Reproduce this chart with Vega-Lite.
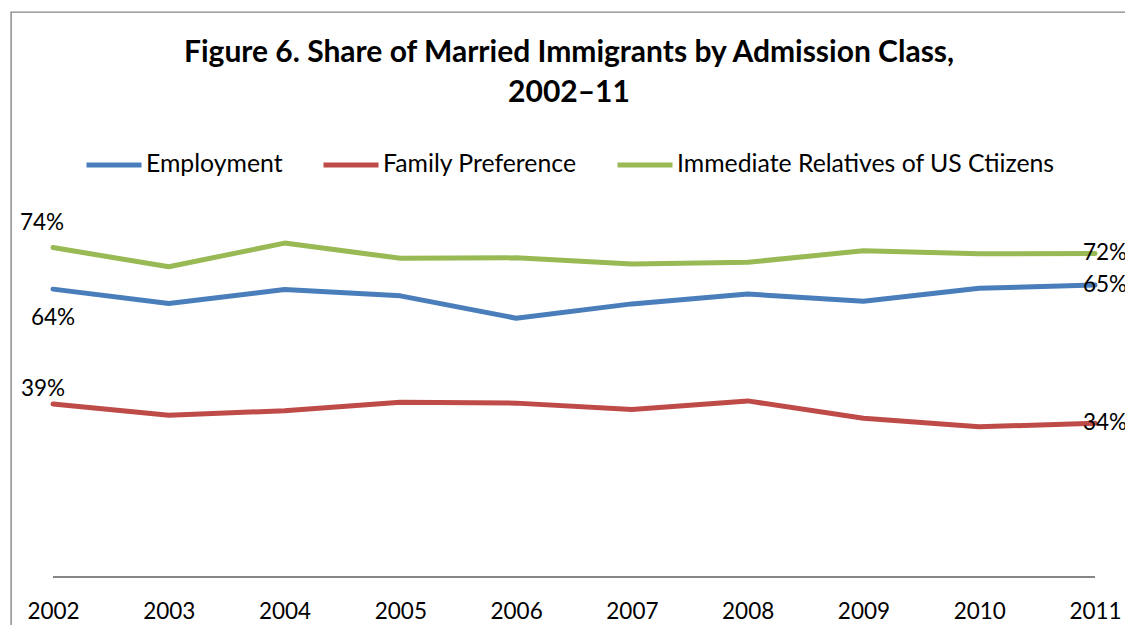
{
  "$schema": "https://vega.github.io/schema/vega-lite/v6.json",
  "width": 1134,
  "height": 633,
  "autosize": "none",
  "padding": {"left": 11, "top": 12, "right": -20, "bottom": -20},
  "background": "white",
  "config": {
    "view": {"stroke": "#868686", "strokeWidth": 1.4},
    "font": "Lato",
    "axis": {"labelFont": "Lato", "labelColor": "black"}
  },
  "title": {
    "text": ["Figure 6. Share of Married Immigrants by Admission Class,", "2002–11"],
    "font": "Lato",
    "fontSize": 30,
    "fontWeight": "bold",
    "color": "black",
    "anchor": "middle",
    "dx": -9,
    "lineHeight": 40,
    "offset": -96
  },
  "data": {
    "values": [
      {"year": 2002, "series": "Employment", "value": 0.644},
      {"year": 2003, "series": "Employment", "value": 0.612},
      {"year": 2004, "series": "Employment", "value": 0.643},
      {"year": 2005, "series": "Employment", "value": 0.629},
      {"year": 2006, "series": "Employment", "value": 0.579},
      {"year": 2007, "series": "Employment", "value": 0.611},
      {"year": 2008, "series": "Employment", "value": 0.633},
      {"year": 2009, "series": "Employment", "value": 0.617},
      {"year": 2010, "series": "Employment", "value": 0.646},
      {"year": 2011, "series": "Employment", "value": 0.653},
      {"year": 2002, "series": "Family Preference", "value": 0.387},
      {"year": 2003, "series": "Family Preference", "value": 0.362},
      {"year": 2004, "series": "Family Preference", "value": 0.372},
      {"year": 2005, "series": "Family Preference", "value": 0.391},
      {"year": 2006, "series": "Family Preference", "value": 0.389},
      {"year": 2007, "series": "Family Preference", "value": 0.375},
      {"year": 2008, "series": "Family Preference", "value": 0.394},
      {"year": 2009, "series": "Family Preference", "value": 0.355},
      {"year": 2010, "series": "Family Preference", "value": 0.336},
      {"year": 2011, "series": "Family Preference", "value": 0.344},
      {"year": 2002, "series": "Immediate Relatives of US Ctiizens", "value": 0.737},
      {"year": 2003, "series": "Immediate Relatives of US Ctiizens", "value": 0.694},
      {"year": 2004, "series": "Immediate Relatives of US Ctiizens", "value": 0.747},
      {"year": 2005, "series": "Immediate Relatives of US Ctiizens", "value": 0.713},
      {"year": 2006, "series": "Immediate Relatives of US Ctiizens", "value": 0.714},
      {"year": 2007, "series": "Immediate Relatives of US Ctiizens", "value": 0.700},
      {"year": 2008, "series": "Immediate Relatives of US Ctiizens", "value": 0.704},
      {"year": 2009, "series": "Immediate Relatives of US Ctiizens", "value": 0.730},
      {"year": 2010, "series": "Immediate Relatives of US Ctiizens", "value": 0.723},
      {"year": 2011, "series": "Immediate Relatives of US Ctiizens", "value": 0.724}
    ]
  },
  "encoding": {
    "x": {
      "field": "year",
      "type": "quantitative",
      "scale": {"domain": [2001.6372, 2011.4319], "nice": false, "zero": false},
      "axis": {
        "values": [2002, 2003, 2004, 2005, 2006, 2007, 2008, 2009, 2010, 2011],
        "format": "d",
        "domain": false,
        "ticks": false,
        "grid": false,
        "offset": -68,
        "labelFontSize": 22.5,
        "labelPadding": 41,
        "labelBaseline": "alphabetic",
        "title": null
      }
    },
    "y": {
      "field": "value",
      "type": "quantitative",
      "scale": {"domain": [-0.1521, 1.264], "nice": false, "zero": false},
      "axis": null
    }
  },
  "layer": [
    {
      "mark": {"type": "line", "strokeWidth": 5, "strokeCap": "round", "strokeJoin": "round"},
      "encoding": {
        "color": {
          "field": "series",
          "type": "nominal",
          "scale": {
            "domain": ["Employment", "Family Preference", "Immediate Relatives of US Ctiizens"],
            "range": ["#4A7EBB", "#BE4B48", "#98B954"]
          },
          "legend": {
            "orient": "none",
            "legendX": 73,
            "legendY": 123,
            "direction": "horizontal",
            "title": null,
            "symbolType": "stroke",
            "symbolSize": 3025,
            "symbolStrokeWidth": 5,
            "labelFont": "Lato",
            "labelFontSize": 24.8,
            "labelColor": "black",
            "labelOffset": 2,
            "labelLimit": 0,
            "columnPadding": 30,
            "padding": 0
          }
        }
      }
    },
    {
      "mark": {"type": "rule", "color": "#868686", "strokeWidth": 1.5},
      "encoding": {
        "x": {"datum": 2002, "type": "quantitative"},
        "x2": {"datum": 2011},
        "y": {"datum": 0, "type": "quantitative"}
      }
    },
    {
      "transform": [{"filter": "datum.year === 2002 && datum.series === 'Immediate Relatives of US Ctiizens'"}],
      "mark": {"type": "text", "align": "center", "baseline": "alphabetic", "dx": -11, "dy": -18, "fontSize": 22.5, "font": "Lato", "color": "black"},
      "encoding": {
        "text": {"field": "value", "type": "quantitative", "format": ".0%"}
      }
    },
    {
      "transform": [{"filter": "datum.year === 2002 && datum.series === 'Employment'"}],
      "mark": {"type": "text", "align": "center", "baseline": "alphabetic", "dx": 0, "dy": 36, "fontSize": 22.5, "font": "Lato", "color": "black"},
      "encoding": {
        "text": {"field": "value", "type": "quantitative", "format": ".0%"}
      }
    },
    {
      "transform": [{"filter": "datum.year === 2002 && datum.series === 'Family Preference'"}],
      "mark": {"type": "text", "align": "center", "baseline": "alphabetic", "dx": -10, "dy": -8, "fontSize": 22.5, "font": "Lato", "color": "black"},
      "encoding": {
        "text": {"field": "value", "type": "quantitative", "format": ".0%"}
      }
    },
    {
      "transform": [{"filter": "datum.year === 2011"}],
      "mark": {"type": "text", "align": "left", "baseline": "middle", "dx": -12, "fontSize": 22.5, "font": "Lato", "color": "black"},
      "encoding": {
        "text": {"field": "value", "type": "quantitative", "format": ".0%"}
      }
    }
  ]
}
